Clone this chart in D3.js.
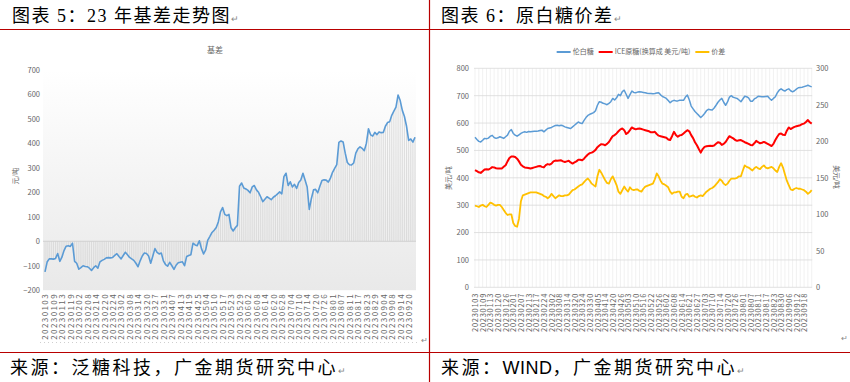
<!DOCTYPE html>
<html><head><meta charset="utf-8">
<script src="https://cdn.jsdelivr.net/npm/d3@7"></script>
<style>
body{margin:0;background:#fff;}
svg{display:block;}
text{font-family:"Noto Sans CJK SC","Noto Sans",sans-serif;}
</style></head><body>
<svg id="chart" width="850" height="382"></svg>
<script>
// ---------- data: chart 5 (basis) ----------
const basisTickLabels=["20230103","20230109","20230113","20230119","20230202","20230208","20230214","20230220","20230224","20230302","20230308","20230314","20230320","20230327","20230331","20230407","20230413","20230419","20230425","20230504","20230510","20230517","20230523","20230529","20230602","20230608","20230614","20230620","20230628","20230704","20230710","20230714","20230720","20230726","20230801","20230807","20230811","20230817","20230823","20230829","20230904","20230908","20230914","20230920"];
const basisValues=[
-125,-85,-72,-72,-73,-70,-50,-82,-65,-38,
-20,-18,-21,-8,-82,-90,-114,-108,-100,-103,
-104,-110,-119,-108,-100,-110,-84,-78,-74,-68,
-67,-68,-66,-58,-51,-62,-72,-58,-45,-55,
-66,-72,-78,-90,-104,-80,-60,-48,-50,-60,
-90,-60,-30,-45,-52,-48,-80,-95,-102,-86,
-100,-115,-98,-88,-86,-84,-100,-62,-58,-55,
-8,-15,-18,2,-30,-52,-35,5,20,36,
45,56,80,120,138,110,105,110,55,42,
55,65,225,238,218,214,208,198,222,228,
210,200,182,162,172,182,176,170,180,186,
194,202,194,264,278,228,243,222,233,216,
240,250,278,250,222,130,175,210,212,198,
225,248,251,250,242,258,282,298,313,404,
410,406,360,322,313,312,320,360,378,386,
380,370,400,460,435,430,445,436,447,444,
445,470,485,488,515,532,548,598,575,535,
510,470,412,418,405,425];
const basisYTicks=[-200,-100,0,100,200,300,400,500,600,700];

// ---------- data: chart 6 (raw / white sugar) ----------
const sugarTickLabels=["20230103","20230109","20230113","20230120","20230126","20230201","20230207","20230213","20230217","20230224","20230302","20230308","20230314","20230320","20230324","20230330","20230405","20230414","20230420","20230426","20230503","20230510","20230516","20230522","20230526","20230602","20230608","20230614","20230621","20230627","20230703","20230710","20230714","20230720","20230726","20230801","20230807","20230811","20230817","20230823","20230830","20230906","20230912","20230918"];
const seriesNames=["伦白糖","ICE原糖(换算成 美元/吨)","价差"];
const londonWhite=[
548,540,533,531,537,544,543,545,552,555,
547,544,546,550,547,544,550,556,570,576,
562,556,552,557,562,566,568,566,569,568,
569,570,570,571,573,574,568,574,580,582,
584,588,591,592,590,592,590,586,584,582,
580,586,592,598,604,600,598,610,620,628,
632,635,638,645,665,678,676,672,670,667,
672,678,690,684,692,705,700,715,720,705,
690,704,717,712,711,713,714,713,712,711,
709,708,708,707,708,710,711,703,697,694,
690,682,674,680,683,681,681,683,683,683,
695,702,685,662,652,642,635,628,620,627,
635,645,650,649,648,655,665,676,684,690,
676,665,677,695,700,694,692,690,684,678,
688,698,696,692,680,680,688,692,698,697,
696,696,697,698,690,683,690,696,710,720,
725,720,717,722,725,718,714,718,724,729,
730,731,733,735,738,735,732];
const iceRaw=[
428,424,420,418,424,430,431,430,434,439,
438,435,434,434,434,440,446,460,472,478,
478,476,470,460,448,442,438,437,436,434,
436,438,440,442,443,440,438,446,450,448,
452,460,463,462,463,464,460,458,460,462,
456,452,456,460,466,466,464,470,478,485,
490,492,496,502,512,518,523,522,519,524,
531,542,552,556,562,570,577,580,574,560,
565,574,584,580,577,579,580,578,576,574,
572,570,566,566,568,560,554,552,550,548,
546,540,538,552,568,556,550,555,556,562,
568,574,570,556,545,530,519,505,492,505,
513,515,516,517,516,518,524,530,528,520,
524,531,542,552,548,544,538,535,537,538,
534,530,527,524,520,519,526,535,530,526,
528,531,528,524,520,516,524,538,550,560,
562,557,556,572,584,578,582,586,588,590,
592,596,598,604,611,603,598];
const spread=[
112,111,110,112,113,111,110,113,116,115,
113,112,113,113,110,106,102,99,100,100,
88,84,83,94,118,126,127,128,129,130,
130,130,130,129,128,127,125,124,122,124,
128,125,122,124,126,125,125,126,126,127,
130,133,134,136,138,140,141,144,147,149,
146,142,140,138,152,161,157,152,147,143,
142,148,152,146,140,131,128,133,138,134,
131,137,134,133,134,134,132,131,135,138,
139,140,141,142,148,156,152,146,142,141,
139,137,131,128,130,130,131,131,124,122,
127,128,124,125,126,124,123,125,126,125,
128,131,133,135,136,138,141,144,148,146,
142,140,142,146,149,149,149,150,152,152,
160,167,165,164,162,160,163,165,163,162,
165,167,164,163,164,165,163,160,158,165,
170,164,155,146,140,134,133,135,136,135,
135,134,133,131,128,130,133];
const priceYTicks=[0,100,200,300,400,500,600,700,800];
const spreadYTicks=[0,50,100,150,200,250,300];
const seriesColors=["#5B9BD5","#FF0000","#FFC000"];

// ---------- page frame ----------
const W=850,H=382;
const svg=d3.select("#chart");
const frame="#B80000";
svg.append("line").attr("x1",0).attr("x2",W).attr("y1",29.5).attr("y2",29.5).attr("stroke",frame).attr("stroke-width",1.2);
svg.append("line").attr("x1",0).attr("x2",W).attr("y1",352.5).attr("y2",352.5).attr("stroke",frame).attr("stroke-width",1.2);
svg.append("line").attr("x1",429.5).attr("x2",429.5).attr("y1",0).attr("y2",H).attr("stroke",frame).attr("stroke-width",1.2);
svg.append("line").attr("x1",40).attr("x2",420).attr("y1",342.5).attr("y2",342.5).attr("stroke","#cfcfcf").attr("stroke-dasharray","1,3");

function heading(x,y,parts,size,ls){
  const t=svg.append("text").attr("x",x).attr("y",y).attr("font-size",size).attr("fill","#000")
    .attr("letter-spacing",ls).style("font-family","'Liberation Serif','Noto Sans CJK SC',serif");
  parts.forEach(p=>{
    const s=t.append("tspan").text(p.s);
    if(p.sans) s.style("font-family","'Liberation Sans Narrow','Liberation Sans',sans-serif").attr("letter-spacing",0.5);
  });
  t.append("tspan").text("↵").attr("font-size",9).attr("fill","#888").attr("letter-spacing",0);
}
heading(12,22,[{s:"图表 5：23 年基差走势图"}],18,1.5);
heading(441,22,[{s:"图表 6：原白糖价差"}],18,1.5);
heading(10,374,[{s:"来源：泛糖科技，广金期货研究中心"}],18,2.5);
heading(441,374,[{s:"来源："},{s:"WIND",sans:true},{s:"，广金期货研究中心"}],18,2.5);
svg.append("text").attr("x",421).attr("y",343).attr("font-size",8).attr("fill","#888").text("↵");
svg.append("text").attr("x",841).attr("y",341).attr("font-size",8).attr("fill","#888").text("↵");

const grey="#666";

// ---------- chart 5 ----------
const xL=d3.scaleLinear().domain([0,basisValues.length-1]).range([45,415]);
const yL=d3.scaleLinear().domain([-200,700]).range([290.2,70]);
const defs=svg.append("defs");
const grad=defs.append("linearGradient").attr("id","bgL").attr("x1",0).attr("y1",0).attr("x2",0).attr("y2",1);
grad.append("stop").attr("offset","0%").attr("stop-color","#ffffff");
grad.append("stop").attr("offset","100%").attr("stop-color","#e9e9e9");
svg.append("rect").attr("x",43).attr("y",yL(700)).attr("width",373).attr("height",yL(-200)-yL(700)).attr("fill","url(#bgL)");
svg.append("g").selectAll("line").data(basisValues).join("line")
  .attr("x1",(d,i)=>xL(i)).attr("x2",(d,i)=>xL(i))
  .attr("y1",d=>yL(d)).attr("y2",yL(0))
  .attr("stroke","#d6d6d6").attr("stroke-width",0.8);
svg.append("line").attr("x1",43).attr("x2",416).attr("y1",yL(0)).attr("y2",yL(0)).attr("stroke","#d0d0d0").attr("stroke-width",1);
svg.append("path").datum(basisValues)
  .attr("d",d3.line().x((d,i)=>xL(i)).y(d=>yL(d)))
  .attr("fill","none").attr("stroke","#5B9BD5").attr("stroke-width",1.6).attr("stroke-linejoin","round");

const gyL=svg.append("g").attr("transform","translate(40,0)")
  .call(d3.axisLeft(yL).tickValues(basisYTicks).tickSize(0).tickPadding(0));
gyL.select(".domain").remove();
gyL.selectAll("text").attr("font-size",7.5).attr("fill",grey).style("font-family","'Noto Sans CJK SC',sans-serif");

const gxL=svg.append("g").attr("transform","translate(0,291)")
  .call(d3.axisBottom(xL).tickValues(basisTickLabels.map((d,k)=>k*4)).tickFormat(i=>basisTickLabels[i/4]).tickSize(0));
gxL.select(".domain").remove();
gxL.selectAll("text").attr("transform","rotate(-90)").attr("text-anchor","end")
  .attr("x",-2).attr("y",0).attr("dy","0.35em").attr("font-size",8).attr("letter-spacing",1.4)
  .attr("fill",grey).style("font-family","'Noto Sans CJK SC',sans-serif");

svg.append("text").attr("x",215).attr("y",53).attr("text-anchor","middle").attr("font-size",8).attr("fill",grey).text("基差");
svg.append("text").attr("transform","translate(18,176) rotate(-90)").attr("text-anchor","middle").attr("font-size",7).attr("fill",grey).text("元/吨");

// ---------- chart 6 ----------
const xR=d3.scaleLinear().domain([0,londonWhite.length-1]).range([475,811.7]);
const yR=d3.scaleLinear().domain([0,800]).range([287.3,68.3]);
const yR2=d3.scaleLinear().domain([0,300]).range([287.3,68.3]);
const vIdx=d3.range(0,londonWhite.length,2);
svg.append("g").selectAll("line").data(vIdx).join("line")
  .attr("x1",i=>xR(i)).attr("x2",i=>xR(i)).attr("y1",yR(800)).attr("y2",yR(0))
  .attr("stroke","#ebebeb").attr("stroke-width",0.7);
svg.append("g").selectAll("line").data(priceYTicks).join("line")
  .attr("x1",xR(0)-1).attr("x2",xR(londonWhite.length-1)+0.5).attr("y1",d=>yR(d)).attr("y2",d=>yR(d))
  .attr("stroke","#d9d9d9").attr("stroke-width",0.8);

const lineR=d3.line().x((d,i)=>xR(i)).y(d=>yR(d));
const lineR2=d3.line().x((d,i)=>xR(i)).y(d=>yR2(d));
svg.append("path").datum(londonWhite).attr("d",lineR).attr("fill","none").attr("stroke",seriesColors[0]).attr("stroke-width",1.5).attr("stroke-linejoin","round");
svg.append("path").datum(iceRaw).attr("d",lineR).attr("fill","none").attr("stroke",seriesColors[1]).attr("stroke-width",2).attr("stroke-linejoin","round");
svg.append("path").datum(spread).attr("d",lineR2).attr("fill","none").attr("stroke",seriesColors[2]).attr("stroke-width",1.8).attr("stroke-linejoin","round");

const gyR=svg.append("g").attr("transform","translate(469,0)")
  .call(d3.axisLeft(yR).tickValues(priceYTicks).tickSize(0).tickPadding(0));
gyR.select(".domain").remove();
gyR.selectAll("text").attr("font-size",7.5).attr("fill",grey).style("font-family","'Noto Sans CJK SC',sans-serif");
const gyR2=svg.append("g").attr("transform","translate(816,0)")
  .call(d3.axisRight(yR2).tickValues(spreadYTicks).tickSize(0).tickPadding(0));
gyR2.select(".domain").remove();
gyR2.selectAll("text").attr("font-size",7.5).attr("fill",grey).style("font-family","'Noto Sans CJK SC',sans-serif");

const gxR=svg.append("g").attr("transform","translate(0,291)")
  .call(d3.axisBottom(xR).tickValues(sugarTickLabels.map((d,k)=>k*4)).tickFormat(i=>sugarTickLabels[i/4]).tickSize(0));
gxR.select(".domain").remove();
gxR.selectAll("text").attr("transform","rotate(-90)").attr("text-anchor","end")
  .attr("x",-2).attr("y",0).attr("dy","0.35em").attr("font-size",7.5).attr("letter-spacing",0.7)
  .attr("fill",grey).style("font-family","'Noto Sans CJK SC',sans-serif");

svg.append("text").attr("transform","translate(451,178) rotate(-90)").attr("text-anchor","middle").attr("font-size",7).attr("fill",grey).text("美元/吨");
svg.append("text").attr("transform","translate(834,177) rotate(90)").attr("text-anchor","middle").attr("font-size",7).attr("fill",grey).text("美元/吨");

// legend
const lg=svg.append("g");
let lx=0;
seriesNames.forEach((name,k)=>{
  lg.append("line").attr("x1",lx).attr("x2",lx+14).attr("y1",0).attr("y2",0).attr("stroke",seriesColors[k]).attr("stroke-width",2);
  const t=lg.append("text").attr("x",lx+16).attr("y",0).attr("dy","0.35em").attr("font-size",7).attr("fill",grey).text(name);
  lx+=16+t.node().getComputedTextLength()+5;
});
lx-=5;
lg.attr("transform",`translate(${641-lx/2},52)`);
</script>
</body></html>
